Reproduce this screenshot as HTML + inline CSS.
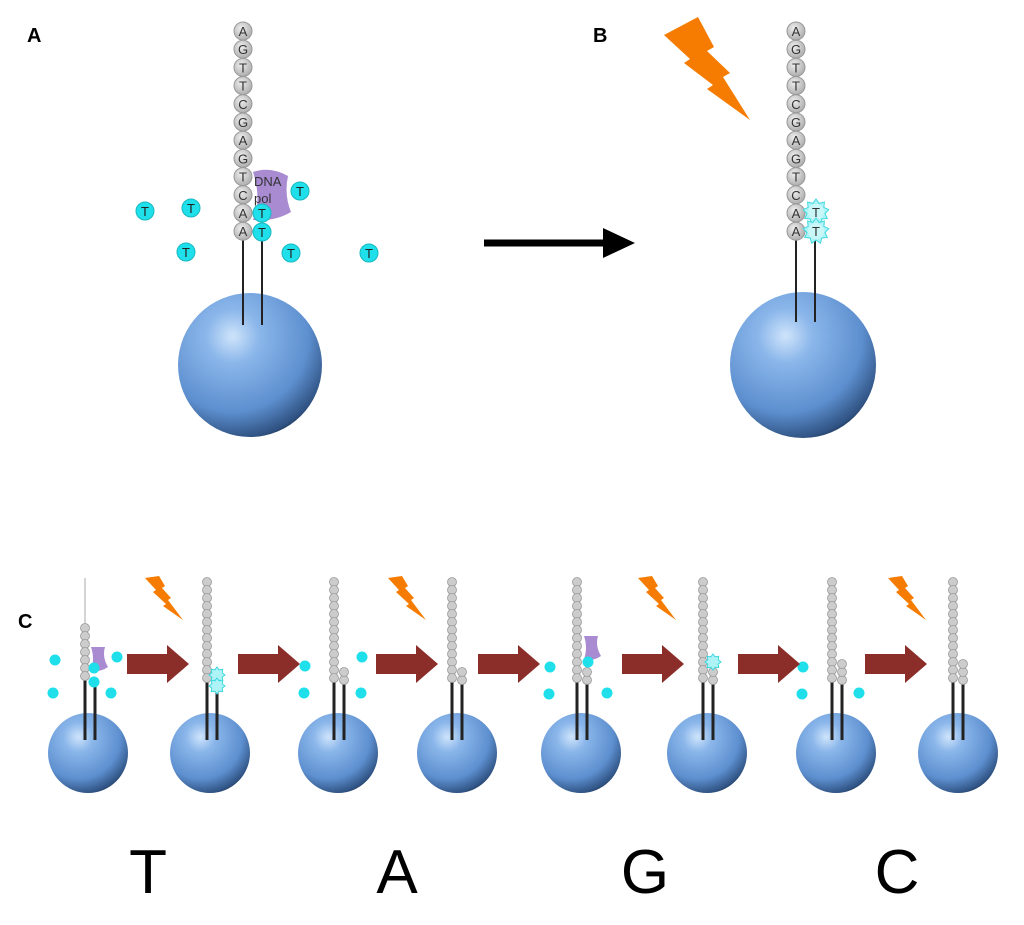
<!DOCTYPE html>
<html><head><meta charset="utf-8"><style>
html,body{margin:0;padding:0;background:#fff;}
svg{display:block;}
</style></head><body>
<svg id="s" width="1024" height="925" viewBox="0 0 1024 925" xmlns="http://www.w3.org/2000/svg" font-family="Liberation Sans, sans-serif">
<defs>
<radialGradient id="sph" cx="0.38" cy="0.3" r="0.75">
<stop offset="0" stop-color="#cfe4fb"/><stop offset="0.25" stop-color="#8ab6ea"/><stop offset="0.7" stop-color="#5d8fcf"/><stop offset="0.95" stop-color="#2f5282"/><stop offset="1" stop-color="#1f3656"/>
</radialGradient>
<radialGradient id="bead" cx="0.4" cy="0.35" r="0.7"><stop offset="0" stop-color="#eee"/><stop offset="1" stop-color="#aaa"/></radialGradient>
</defs>
<g id="g"></g>
<text x="27" y="42" font-size="20" font-weight="bold">A</text>
<text x="593" y="42" font-size="20" font-weight="bold">B</text>
<text x="18" y="628" font-size="20" font-weight="bold">C</text>
<g font-size="62" text-anchor="middle" fill="#000">
<text x="148" y="893">T</text><text x="397" y="893">A</text><text x="645" y="893">G</text><text x="897" y="893">C</text>
</g>
<line x1="484" y1="243" x2="608" y2="243" stroke="#000" stroke-width="7"/>
<polygon points="603,228 635,243 603,258" fill="#000"/>
<polygon points="664,35 698,17 714,47 707,51 730,73 723,77 750,120 707,89 713,85 684,63 690,59" fill="#f57c00"/>
<path d="M253,172 Q270,166 288,176 Q284,195 291,212 Q274,222 253,220 Q262,200 253,172Z" fill="#a88bd1"/>
<text x="254" y="186" font-size="13" fill="#333">DNA</text>
<text x="254" y="203" font-size="13" fill="#333">pol</text>
<g id="g2"></g>
</svg>
<script>
var NS="http://www.w3.org/2000/svg",g=document.getElementById('g'),g2=document.getElementById('g2');
function el(t,a,p){var e=document.createElementNS(NS,t);for(var k in a)e.setAttribute(k,a[k]);(p||g).appendChild(e);return e;}
function sphere(cx,cy,r){el('circle',{cx:cx,cy:cy,r:r,fill:'url(#sph)'});}
function line(x,y1,y2,w){el('line',{x1:x,y1:y1,x2:x,y2:y2,stroke:'#222','stroke-width':w});}
sphere(250,365,72);sphere(803,365,73);
line(243,240,325,2);line(262,240,325,2);line(796,240,322,2);line(815,240,322,2);
var seq="AGTTCGAGTCAA";
function strand(x){for(var i=0;i<12;i++){var yy=31+i*18.2;el('circle',{cx:x,cy:yy,r:9,fill:'url(#bead)',stroke:'#999','stroke-width':1});var t=el('text',{x:x,y:yy+5,'font-size':13,'text-anchor':'middle',fill:'#333'});t.textContent=seq[i];}}
strand(243);strand(796);
[[145,211],[191,208],[300,191],[262,213],[262,232],[186,252],[291,253],[369,253]].forEach(function(p){el('circle',{cx:p[0],cy:p[1],r:9,fill:'#1fe0ea',stroke:'#18b8c0','stroke-width':1},g2);var t=el('text',{x:p[0],y:p[1]+5,'font-size':13,'text-anchor':'middle',fill:'#222'},g2);t.textContent='T';});
function star(cx,cy,r,n,par){var d='';for(var i=0;i<n*2;i++){var a=i*Math.PI/n,rr=i%2?r*0.7:r;d+=(i?'L':'M')+(cx+rr*Math.sin(a)).toFixed(1)+','+(cy-rr*Math.cos(a)).toFixed(1);}el('path',{d:d+'Z',fill:'#aef3f5',stroke:'#3fd8e0','stroke-width':1},par);}
[[816,212],[816,231]].forEach(function(p){star(p[0],p[1],13,9,g2);el('circle',{cx:p[0],cy:p[1],r:8,fill:'#c9f7f8'},g2);var t=el('text',{x:p[0],y:p[1]+5,'font-size':13,'text-anchor':'middle',fill:'#333'},g2);t.textContent='T';});
var xs=[85,207,334,452,577,703,832,953],cxs=[88,210,338,457,581,707,836,958];
var comp=[0,0,2,2,2,2,3,3];
for(var u=0;u<8;u++){var x=xs[u];sphere(cxs[u],753,40);line(x,680,740,3);line(x+10,680,740,3);
 var y0=(u==0)?628:582; if(u==0)el('line',{x1:x,y1:578,x2:x,y2:628,stroke:'#aaa','stroke-width':1});
 for(var yy=y0;yy<=680;yy+=8)el('circle',{cx:x,cy:yy,r:4.5,fill:'#ccc',stroke:'#999','stroke-width':0.8});
 for(var k=0;k<comp[u];k++)el('circle',{cx:x+10,cy:680-k*8,r:4.5,fill:'#ccc',stroke:'#999','stroke-width':0.8});
}
function pol(x,y){el('path',{d:'M'+(x+4)+','+y+' h14 q-3,10 3,20 q-9,6 -17,3 q4,-11 0,-23z',fill:'#a88bd1'});}
pol(87,647);pol(580,636);
[[55,660],[53,693],[117,657],[111,693],[94,668],[94,682],[305,666],[304,693],[362,657],[361,693],[550,667],[549,694],[607,693],[588,662],[803,667],[802,694],[859,693]].forEach(function(p){el('circle',{cx:p[0],cy:p[1],r:5.5,fill:'#1fe0ea'});});
star(217,675,8,8);star(217,686,8,8);star(713,662,8,8);
[127,238,376,478,622,738,865].forEach(function(x){el('polygon',{points:[x,654,x+40,654,x+40,645,x+62,664,x+40,683,x+40,674,x,674].join(' '),fill:'#8b2e2a'});});
[145,388,638,888].forEach(function(x){var p=[[0,2],[14,0],[20,10],[17,12],[26,22],[23,24],[38,44],[18,30],[21,28],[8,16],[11,14]];el('polygon',{points:p.map(function(q){return (x+q[0])+','+(576+q[1]);}).join(' '),fill:'#f57c00'});});
</script>
</body></html>
